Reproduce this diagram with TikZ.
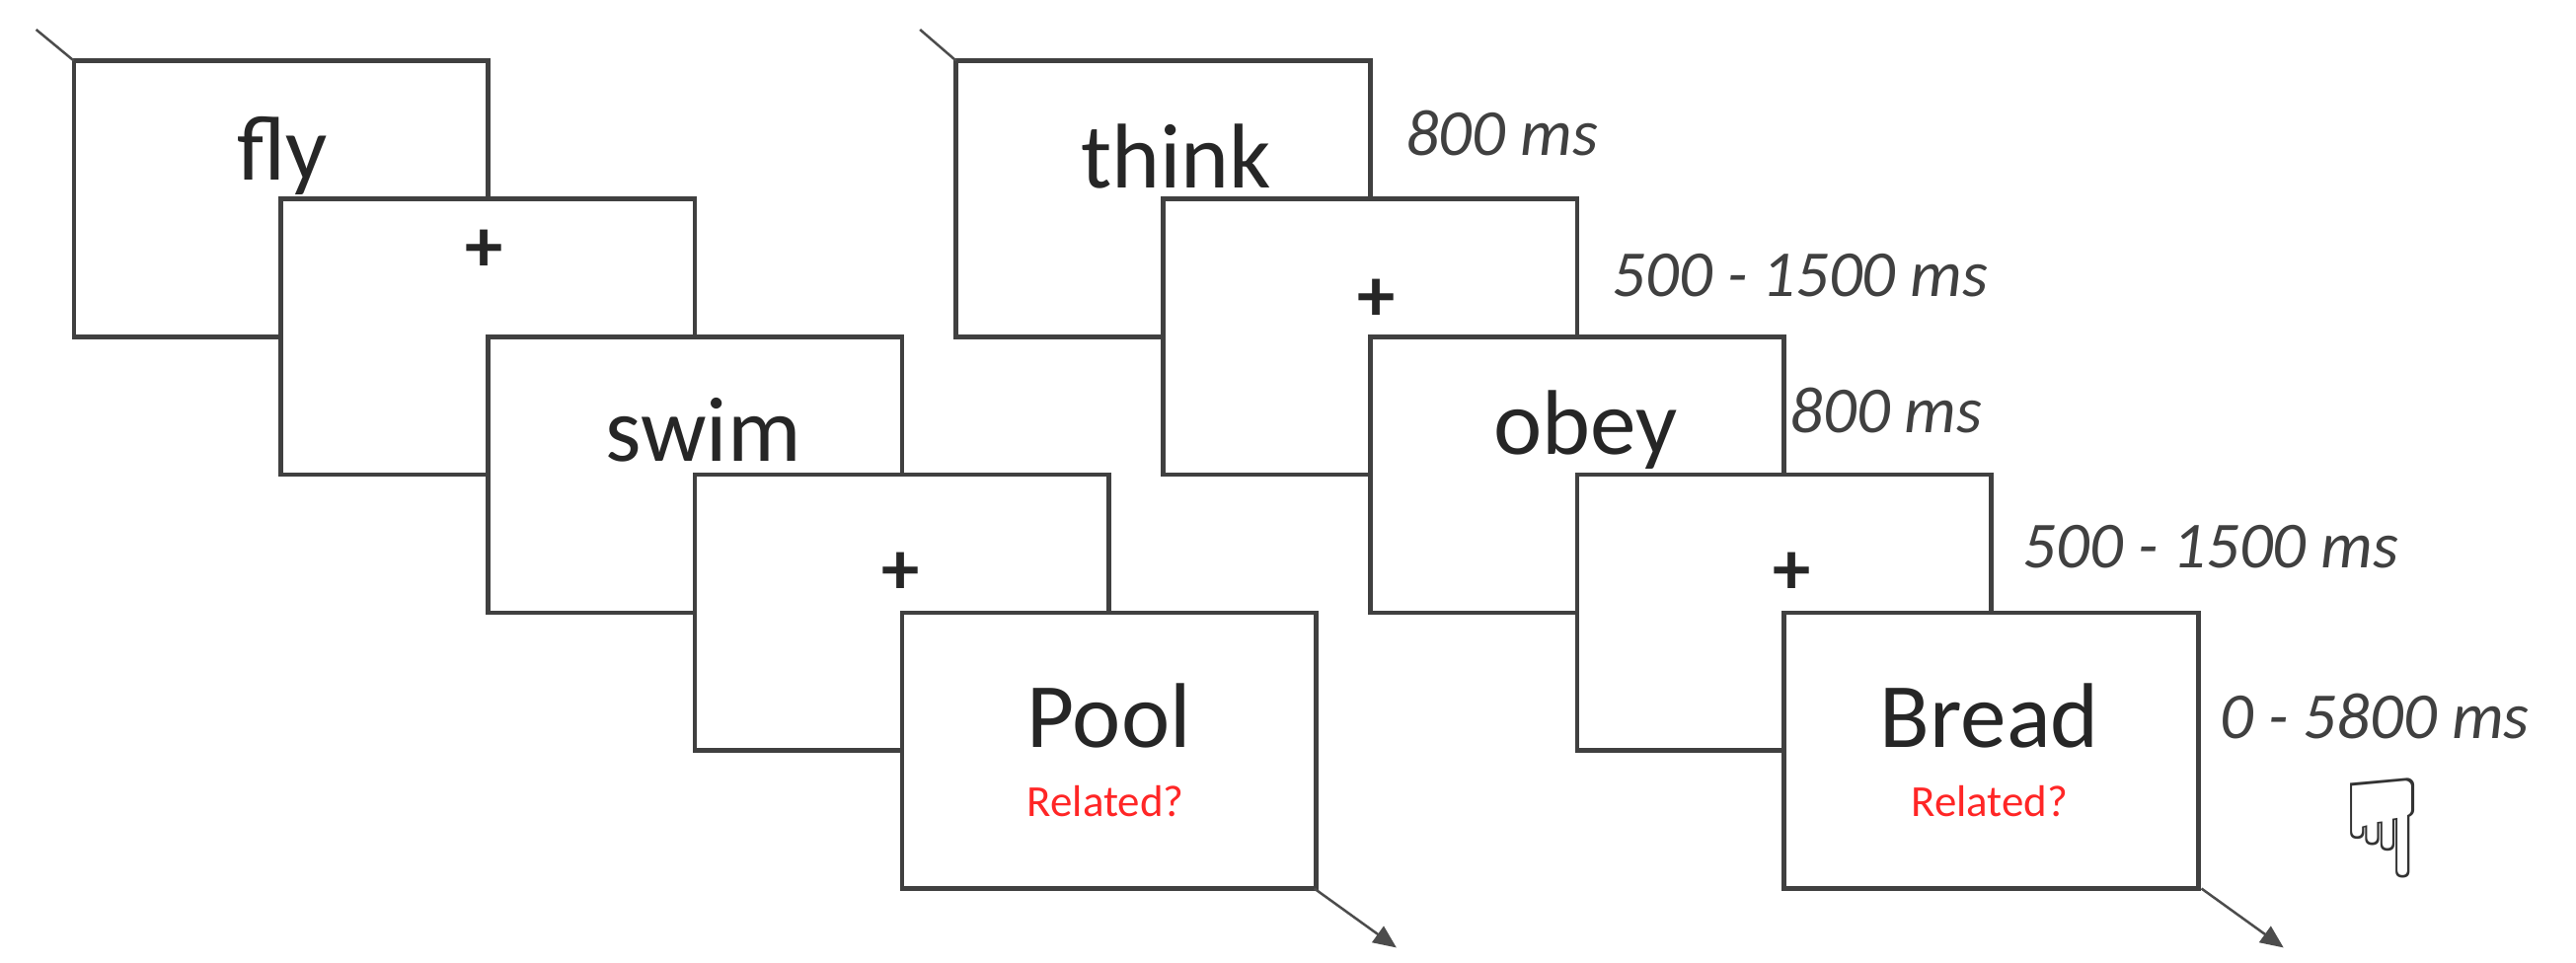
\documentclass[tikz,border=0pt]{standalone}
\usepackage{fontspec}
\setmainfont{Carlito}
\newfontfamily\symf{DejaVu Sans}
\usetikzlibrary{arrows.meta}
\begin{document}
\begin{tikzpicture}[x=1pt,y=-1pt,
  frame/.style={draw=black!75,line width=2.8pt,fill=white},
  word/.style={font=\fontsize{56}{60}\selectfont,text=black!85},
  cross/.style={font=\fontsize{46}{46}\selectfont\bfseries,text=black!85},
  rel/.style={font=\fontsize{27}{30}\selectfont,text=red!85},
  tim/.style={font=\fontsize{40}{42}\selectfont\itshape,text=black!75,anchor=west},
  lin/.style={draw=black!70,line width=1.5pt}]
\useasboundingbox (0,0) rectangle (1568,586);
\foreach \i in {0,...,4}{
  \draw[frame] ({45+126*\i},{37+84*\i}) rectangle ({297+126*\i},{205+84*\i});
}
\node[word] (fly) at (172,95) {fly};
\node[cross] (p1) at (295,153) {+};
\node[word] (swim) at (428,262) {swim};
\node[cross] (p2) at (548,349) {+};
\node[word] (pool) at (675,436) {Pool};
\node[rel] (r1) at (673,488) {Related?};
\coordinate (la) at (22,18); \coordinate (lb) at (45,37);
\draw[lin] (la) -- (lb);
\coordinate (lc) at (800,541); \coordinate (ld) at (850,577);
\draw[lin,-{Triangle[length=14pt,width=12pt]}] (lc) -- (ld);
\foreach \i in {0,...,4}{
  \draw[frame] ({582+126*\i},{37+84*\i}) rectangle ({834+126*\i},{205+84*\i});
}
\node[word] (think) at (716,95) {think};
\node[cross] (p3) at (838,183) {+};
\node[word] (obey) at (965,262) {obey};
\node[cross] (p4) at (1091,349) {+};
\node[word] (bread) at (1211,436) {Bread};
\node[rel] (r2) at (1211,488) {Related?};
\coordinate (ra) at (560,18); \coordinate (rb) at (582,37);
\draw[lin] (ra) -- (rb);
\coordinate (rc) at (1340,541); \coordinate (rd) at (1390,577);
\draw[lin,-{Triangle[length=14pt,width=12pt]}] (rc) -- (rd);
\node[tim] (t1) at (852,81) {800 ms};
\node[tim] (t2) at (978,168) {500 - 1500 ms};
\node[tim] (t3) at (1086,250) {800 ms};
\node[tim] (t4) at (1228,333) {500 - 1500 ms};
\node[tim] (t5) at (1348,436) {0 - 5800 ms};
\node[font=\symf\fontsize{84}{84}\selectfont,text=black!80] (hand) at (1450,504) {☟};
\end{tikzpicture}
\end{document}
